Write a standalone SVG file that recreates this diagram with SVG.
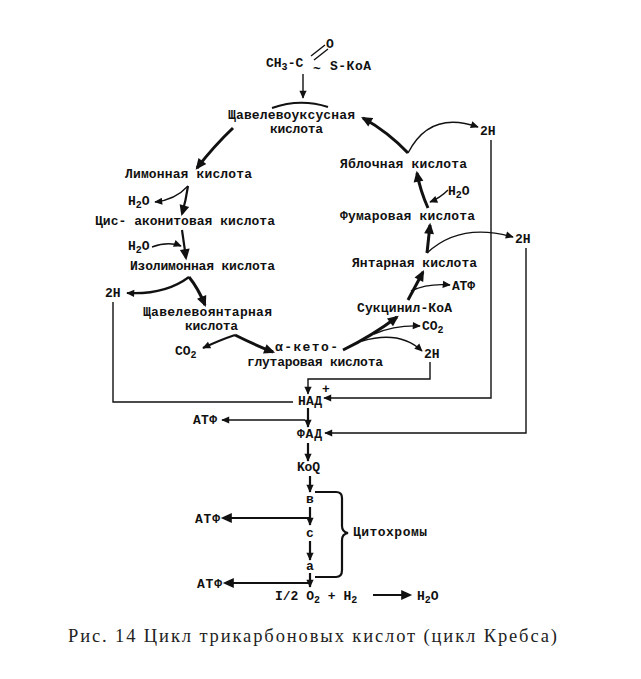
<svg xmlns="http://www.w3.org/2000/svg" width="641" height="679" viewBox="0 0 641 679">
<style>
.t{font-family:"Liberation Mono","DejaVu Sans Mono",monospace;font-weight:bold;font-size:13px;fill:#111}
.s{font-size:10px}
.cap{font-family:"Liberation Serif","DejaVu Serif",serif;font-size:18.5px;fill:#222}
.ln{fill:none;stroke:#111;stroke-width:1.4}
.tk{fill:none;stroke:#111;stroke-width:3}
.md{fill:none;stroke:#111;stroke-width:2.2}
</style>
<defs>
<marker id="ah" viewBox="0 0 10 10" refX="9" refY="5" markerWidth="9" markerHeight="8" markerUnits="userSpaceOnUse" orient="auto"><path d="M0,0.5 L10,5 L0,9.5 z" fill="#111"/></marker>
<marker id="ab" viewBox="0 0 10 10" refX="8" refY="5" markerWidth="12" markerHeight="11" markerUnits="userSpaceOnUse" orient="auto"><path d="M0,0.5 L10,5 L0,9.5 z" fill="#111"/></marker>
</defs>
<rect width="641" height="679" fill="#fff"/>

<g id="connectors">
<path class="ln" d="M303,74 L303,98" marker-end="url(#ah)"/>
<path class="md" d="M272,108 Q300,98 328,107"/>
<path class="ln" d="M311,56 L325,45 M314,60 L328,49"/>
<path class="tk" d="M233,128 Q214,146 197,168" marker-end="url(#ab)"/>
<path class="md" d="M188,186 Q186,200 182,214" marker-end="url(#ab)"/>
<path class="ln" d="M188,186 Q175,200 155,202" marker-end="url(#ah)"/>
<path class="ln" d="M152,247 Q168,241 181,246" marker-end="url(#ah)"/>
<path class="md" d="M182,230 L186,258" marker-end="url(#ab)"/>
<path class="md" d="M189,277 Q165,295 127,293" marker-end="url(#ah)"/>
<path class="tk" d="M189,277 Q198,288 205,305" marker-end="url(#ab)"/>
<path class="md" d="M235,335 Q220,340 203,348" marker-end="url(#ah)"/>
<path class="tk" d="M235,335 Q255,345 273,352" marker-end="url(#ab)"/>
<path class="tk" d="M343,350 Q372,336 397,317" marker-end="url(#ab)"/>
<path class="ln" d="M374,334 Q395,325 420,326" marker-end="url(#ah)"/>
<path class="ln" d="M362,341 Q400,330 422,351" marker-end="url(#ah)"/>
<path class="tk" d="M408,300 L423,272" marker-end="url(#ab)"/>
<path class="ln" d="M411,291 Q428,283 450,285" marker-end="url(#ah)"/>
<path class="tk" d="M427,253 L430,225" marker-end="url(#ab)"/>
<path class="ln" d="M427,253 Q460,222 513,237" marker-end="url(#ah)"/>
<path class="tk" d="M428,208 Q420,190 417,173" marker-end="url(#ab)"/>
<path class="ln" d="M448,190 Q440,198 430,202" marker-end="url(#ah)"/>
<path class="tk" d="M408,153 Q388,132 363,118" marker-end="url(#ab)"/>
<path class="ln" d="M408,153 Q430,110 478,127" marker-end="url(#ah)"/>
<path class="ln" d="M491,140 L491,398 L324,398" marker-end="url(#ah)"/>
<path class="ln" d="M526,248 L526,433 L325,433" marker-end="url(#ah)"/>
<path class="ln" d="M113,302 L113,402 L293,402"/>
<path class="ln" d="M430,362 L430,379 L308,379 L308,394" marker-end="url(#ah)"/>
<path class="md" d="M308,408 L308,427" marker-end="url(#ah)"/>
<path class="ln" d="M305,420 L222,420" marker-end="url(#ah)"/>
<path class="md" d="M308,443 L308,461" marker-end="url(#ah)"/>
<path class="md" d="M310,476 L310,492" marker-end="url(#ah)"/>
<path class="md" d="M310,507 L310,525" marker-end="url(#ah)"/>
<path class="md" d="M310,518 L223,518" marker-end="url(#ab)"/>
<path class="md" d="M310,541 L310,560" marker-end="url(#ah)"/>
<path class="md" d="M310,573 L310,587" marker-end="url(#ah)"/>
<path class="md" d="M310,583 L225,583" marker-end="url(#ab)"/>
<path class="md" d="M373,595 L410,595" marker-end="url(#ab)"/>
<path class="md" d="M315,492 L336,492 Q342,492 342,498 L342,526 Q342,532 348,533 Q342,534 342,540 L342,570 Q342,577 336,577 L315,577"/>
</g>

<g id="acetyl-coa">
<text class="t" x="266" y="67">CH<tspan class="s" dy="3">3</tspan><tspan dy="-3">-C</tspan></text>
<text class="t" x="326" y="48" font-size="12">O</text>
<text class="t" x="313" y="73">~</text>
<text class="t" x="330" y="70" textLength="41">S-КоА</text>
</g>
<g id="oxaloacetate">
<text class="t" x="228" y="119" textLength="127" font-size="11.5">Щавелевоуксусная</text>
<text class="t" x="270" y="133" textLength="53" font-size="11.5">кислота</text>
</g>
<g id="citrate"><text class="t" x="125" y="178" textLength="127">Лимонная кислота</text></g>
<g id="h2o-1"><text class="t" x="128" y="205">H<tspan class="s" dy="3">2</tspan><tspan dy="-3">O</tspan></text></g>
<g id="cis-aconitate"><text class="t" x="95" y="225" textLength="180">Цис- аконитовая кислота</text></g>
<g id="h2o-2"><text class="t" x="128" y="250">H<tspan class="s" dy="3">2</tspan><tspan dy="-3">O</tspan></text></g>
<g id="isocitrate"><text class="t" x="130" y="270" textLength="145">Изолимонная кислота</text></g>
<g id="2h-left"><text class="t" x="105" y="297">2H</text></g>
<g id="oxalosuccinate">
<text class="t" x="143" y="316" textLength="129" font-size="11.5">Щавелевоянтарная</text>
<text class="t" x="185" y="330" textLength="53" font-size="11.5">кислота</text>
</g>
<g id="co2-left"><text class="t" x="175" y="355">CO<tspan class="s" dy="3">2</tspan></text></g>
<g id="alpha-kg">
<text class="t" x="275" y="351" textLength="63" font-size="12">α-кето-</text>
<text class="t" x="247" y="366" textLength="136" font-size="12">глутаровая кислота</text>
</g>
<g id="succinyl-coa"><text class="t" x="357" y="312" textLength="95">Сукцинил-КоА</text></g>
<g id="co2-right"><text class="t" x="422" y="330">CO<tspan class="s" dy="3">2</tspan></text></g>
<g id="2h-akg"><text class="t" x="424" y="358">2H</text></g>
<g id="atp-succ"><text class="t" x="452" y="290" textLength="23">АТФ</text></g>
<g id="succinate"><text class="t" x="352" y="267" textLength="125">Янтарная кислота</text></g>
<g id="2h-succ"><text class="t" x="515" y="243">2H</text></g>
<g id="fumarate"><text class="t" x="340" y="220" textLength="135">Фумаровая кислота</text></g>
<g id="h2o-3"><text class="t" x="448" y="195">H<tspan class="s" dy="3">2</tspan><tspan dy="-3">O</tspan></text></g>
<g id="malate"><text class="t" x="340" y="168" textLength="127">Яблочная кислота</text></g>
<g id="2h-malate"><text class="t" x="480" y="135">2H</text></g>
<g id="nad">
<text class="t" x="298" y="405" textLength="24">НАД</text>
<text class="t" x="322" y="393" font-size="10">+</text>
</g>
<g id="atp-1"><text class="t" x="193" y="424" textLength="24" font-size="11">АТФ</text></g>
<g id="fad"><text class="t" x="297" y="438" textLength="25">ФАД</text></g>
<g id="coq"><text class="t" x="297" y="471" textLength="23">KoQ</text></g>
<g id="cyt-b"><text class="t" x="310" y="503" text-anchor="middle" font-size="11">в</text></g>
<g id="atp-2"><text class="t" x="195" y="523" textLength="25" font-size="11">АТФ</text></g>
<g id="cyt-c"><text class="t" x="310" y="537" text-anchor="middle" font-size="11">с</text></g>
<g id="cyt-a"><text class="t" x="310" y="570" text-anchor="middle" font-size="11">а</text></g>
<g id="atp-3"><text class="t" x="197" y="588" textLength="25" font-size="11">АТФ</text></g>
<g id="cytochromes"><text class="t" x="353" y="536" textLength="74" font-size="11">Цитохромы</text></g>
<g id="oxygen"><text class="t" x="275" y="600">I/2 O<tspan class="s" dy="3">2</tspan><tspan dy="-3"> + H</tspan><tspan class="s" dy="3">2</tspan></text></g>
<g id="water"><text class="t" x="417" y="600">H<tspan class="s" dy="3">2</tspan><tspan dy="-3">O</tspan></text></g>
<text class="cap" x="68" y="642" textLength="489">Рис. 14  Цикл трикарбоновых кислот (цикл Кребса)</text>
</svg>
